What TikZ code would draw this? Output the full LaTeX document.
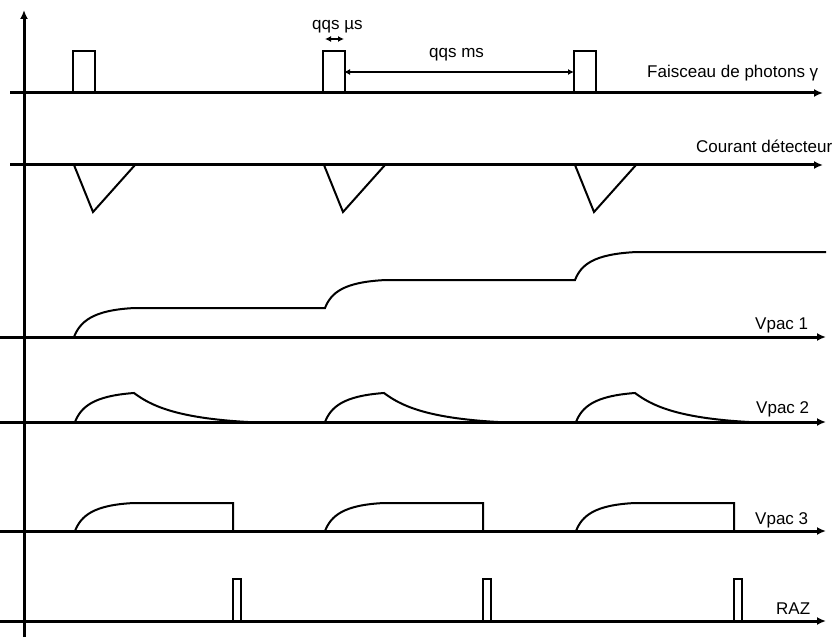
\documentclass[tikz,border=0pt]{standalone}
\usepackage{fontspec}
\setmainfont{Liberation Sans}
\usetikzlibrary{arrows.meta}
\tikzset{
  axe/.style={line width=3pt,-{Latex[length=9pt,width=8pt]}},
  signal/.style={line width=2pt},
  cote/.style={line width=1.3pt,{Latex[length=6pt,width=6pt]}-{Latex[length=6pt,width=6pt]}},
  lbl/.style={font=\fontsize{17}{20}\selectfont,inner sep=0pt,anchor=base west}
}

\begin{document}
\begin{tikzpicture}[x=1pt,y=-1pt]
\useasboundingbox (0,0) rectangle (832,639);

\coordinate (O) at (24,637);
\coordinate (Y) at (24,10);
\draw[axe] (O) -- (Y);

\draw[axe] (10,93) -- (823,93);
\draw[axe] (10,165) -- (823,165);
\draw[axe] (0,337) -- (826,337);
\draw[axe] (0,422) -- (826,422);
\draw[axe] (0,531) -- (826,531);
\draw[axe] (0,621) -- (826,621);

\foreach \d in {0,250,501}{
  \begin{scope}[xshift=\d]
    \draw[signal] (73,93) -- (73,51) -- (95,51) -- (95,93);
    \draw[signal] (74,165) -- (93,212) -- (135,165);
    \draw[signal] (75,422) .. controls (81,407) and (93,396) .. (134,393)
                  .. controls (150,405) and (175,418) .. (248,422);
    \draw[signal] (75,531) .. controls (81,516) and (93,505) .. (134,503)
                  -- (233,503) -- (233,531);
    \draw[signal] (233,621) -- (233,579) -- (241,579) -- (241,621);
  \end{scope}
}

\draw[signal] (74,337) .. controls (80,322) and (92,310) .. (135,308) -- (325,308)
  .. controls (331,293) and (343,282) .. (386,280) -- (575,280)
  .. controls (581,265) and (593,254) .. (637,252) -- (826,252);

\coordinate (us1) at (325,39);
\coordinate (us2) at (344,39);
\coordinate (ms1) at (344,72);
\coordinate (ms2) at (574,72);
\draw[cote] (us1) -- (us2);
\draw[cote] (ms1) -- (ms2);

\node[lbl] (qqsus) at (312,30) {qqs µs};
\node[lbl] (qqsms) at (429,58) {qqs ms};
\node[lbl] (faisceau) at (647,78) {Faisceau de photons γ};
\node[lbl] (courant) at (696,153) {Courant détecteur};
\node[lbl] (vpac1) at (755,329) {Vpac 1};
\node[lbl] (vpac2) at (756,413) {Vpac 2};
\node[lbl] (vpac3) at (755,524) {Vpac 3};
\node[lbl] (raz) at (776,614) {RAZ};

\end{tikzpicture}
\end{document}
